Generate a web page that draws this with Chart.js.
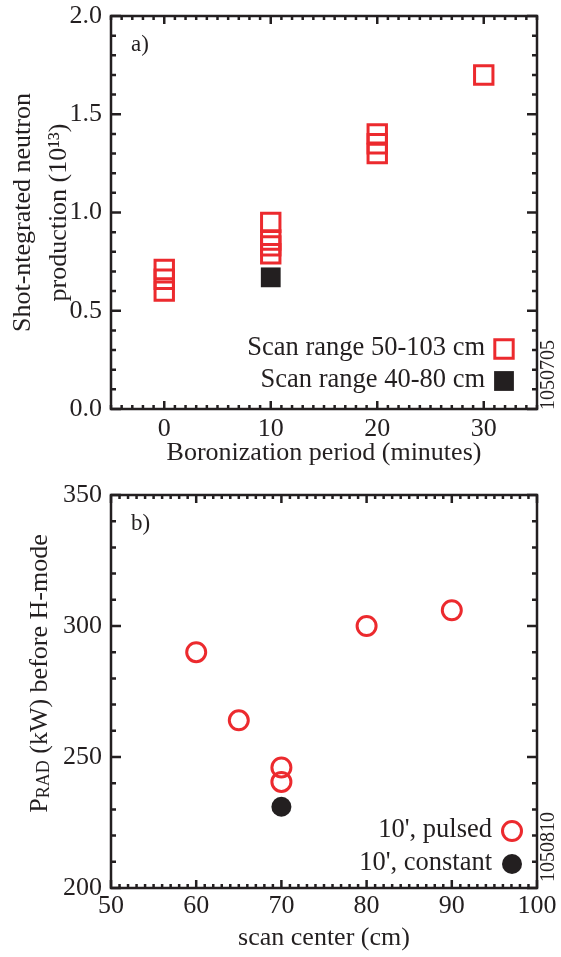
<!DOCTYPE html>
<html>
<head>
<meta charset="utf-8">
<script src="https://cdn.jsdelivr.net/npm/chart.js@4.4.1/dist/chart.umd.min.js"></script>
<style>
  html, body { margin: 0; padding: 0; background: #fff; }
  canvas { display: block; }
</style>
</head>
<body>
<canvas id="neutron-chart" width="561" height="480"></canvas>
<canvas id="prad-chart" width="561" height="477"></canvas>
<script>
// Panel a) data
const boronTimePulsed = [0, 0, 0, 10, 10, 10, 10, 20, 20, 20, 30];
const neutronPulsed = [0.71, 0.66, 0.60, 0.95, 0.86, 0.83, 0.79, 1.40, 1.35, 1.30, 1.70];
const boronTimeNarrow = [10];
const neutronNarrow = [0.67];
const boronTicks = [0, 10, 20, 30];
const neutronTicks = [0.0, 0.5, 1.0, 1.5, 2.0];

// Panel b) data
const scanCenterPulsed = [60, 65, 70, 70, 80, 90];
const pradPulsed = [290, 264, 246, 240.5, 300, 306];
const scanCenterConstant = [70];
const pradConstant = [231];
const scanTicks = [50, 60, 70, 80, 90, 100];
const pradTicks = [200, 250, 300, 350];

const ink = '#231f20';
const red = '#ec2a2e';
const serif = "'Liberation Serif', 'DejaVu Serif', serif";

function toPoints(xs, ys) {
  return xs.map((v, i) => ({ x: v, y: ys[i] }));
}

// frame around plot area + inward ticks on all four sides
const boxTicks = {
  id: 'boxTicks',
  afterDraw(chart, args, opts) {
    const { ctx, chartArea: a, scales: { x, y } } = chart;
    ctx.save();
    ctx.strokeStyle = ink;
    ctx.lineWidth = 2.5;
    ctx.beginPath();
    const nx = Math.round((x.max - x.min) / opts.xMinor);
    for (let i = 0; i <= nx; i++) {
      const v = x.min + i * opts.xMinor;
      const major = Math.abs(v / opts.xMajor - Math.round(v / opts.xMajor)) < 1e-6;
      const len = major ? 8 : 4;
      const px = x.getPixelForValue(v);
      ctx.moveTo(px, a.bottom); ctx.lineTo(px, a.bottom - len);
      ctx.moveTo(px, a.top); ctx.lineTo(px, a.top + len);
    }
    const ny = Math.round((y.max - y.min) / opts.yMinor);
    for (let i = 0; i <= ny; i++) {
      const v = y.min + i * opts.yMinor;
      const major = Math.abs(v / opts.yMajor - Math.round(v / opts.yMajor)) < 1e-6;
      const len = major ? 10 : 5;
      const py = y.getPixelForValue(v);
      ctx.moveTo(a.left, py); ctx.lineTo(a.left + len, py);
      ctx.moveTo(a.right, py); ctx.lineTo(a.right - len, py);
    }
    ctx.stroke();
    ctx.strokeRect(a.left, a.top, a.right - a.left, a.bottom - a.top);
    ctx.restore();
  }
};

function drawMarker(ctx, ds, cx, cy) {
  ctx.save();
  ctx.fillStyle = ds.backgroundColor;
  ctx.strokeStyle = ds.borderColor;
  ctx.lineWidth = ds.borderWidth;
  ctx.beginPath();
  if (ds.pointStyle === 'rect') {
    const s = Math.SQRT1_2 * ds.pointRadius;
    ctx.rect(cx - s, cy - s, 2 * s, 2 * s);
  } else {
    ctx.arc(cx, cy, ds.pointRadius, 0, Math.PI * 2);
  }
  ctx.fill();
  if (ds.borderWidth > 0) ctx.stroke();
  ctx.restore();
}

// legend in the lower right corner, panel tag, and shot id on the right
const panelExtras = {
  id: 'panelExtras',
  afterDraw(chart, args, opts) {
    const { ctx, chartArea: a } = chart;
    ctx.save();
    ctx.fillStyle = ink;
    ctx.font = `26.5px ${serif}`;
    ctx.textAlign = 'right';
    ctx.textBaseline = 'middle';
    chart.data.datasets.forEach((ds, i) => {
      ctx.fillStyle = ink;
      ctx.fillText(ds.label, a.right - opts.textRight, a.bottom - opts.rows[i]);
      drawMarker(ctx, ds, a.right - opts.symbolRight, a.bottom - opts.rows[i] + 1);
    });

    ctx.fillStyle = ink;
    ctx.font = `23px ${serif}`;
    ctx.textAlign = 'left';
    ctx.fillText(opts.tag, a.left + 20, a.top + 29);

    ctx.translate(a.right + 12, a.bottom + opts.idEnd);
    ctx.rotate(-Math.PI / 2);
    ctx.font = `20px ${serif}`;
    ctx.textAlign = 'left';
    ctx.textBaseline = 'middle';
    ctx.fillText(opts.id, 0, 0);
    ctx.restore();
  }
};

// y title of panel b) with the RAD subscript
const pradTitle = {
  id: 'pradTitle',
  afterDraw(chart) {
    const { ctx, chartArea: a } = chart;
    const parts = [
      { t: 'P', f: `26px ${serif}`, dy: 0 },
      { t: 'RAD', f: `18px ${serif}`, dy: 2 },
      { t: ' (kW) before H-mode', f: `26px ${serif}`, dy: 0 }
    ];
    ctx.save();
    let total = 0;
    parts.forEach(p => { ctx.font = p.f; p.w = ctx.measureText(p.t).width; total += p.w; });
    ctx.translate(47, (a.top + a.bottom) / 2 - 18);
    ctx.rotate(-Math.PI / 2);
    ctx.fillStyle = ink;
    ctx.textBaseline = 'alphabetic';
    ctx.textAlign = 'left';
    let px = -total / 2;
    parts.forEach(p => {
      ctx.font = p.f;
      ctx.fillText(p.t, px, p.dy);
      px += p.w;
    });
    ctx.restore();
  }
};

function axisFont() {
  return { family: serif, size: 26 };
}

// fixed axis sizes so the plot box lands where the reference has it
function fixX(h) {
  return s => { s.height = h; s.paddingLeft = 0; s.paddingRight = 0; };
}
function fixY(w) {
  return s => { s.width = w; s.paddingTop = 0; s.paddingBottom = 0; };
}

// Panel a)
const neutronCtx = document.getElementById('neutron-chart').getContext('2d');
const neutronChart = new Chart(neutronCtx, {
  type: 'scatter',
  data: {
    datasets: [
      {
        label: 'Scan range 50-103 cm',
        data: toPoints(boronTimePulsed, neutronPulsed),
        pointStyle: 'rect',
        pointRadius: 13,
        borderWidth: 3,
        borderColor: red,
        backgroundColor: 'rgba(0,0,0,0)'
      },
      {
        label: 'Scan range 40-80 cm',
        data: toPoints(boronTimeNarrow, neutronNarrow),
        pointStyle: 'rect',
        pointRadius: 14,
        borderWidth: 0,
        borderColor: ink,
        backgroundColor: ink
      }
    ]
  },
  options: {
    responsive: false,
    animation: false,
    layout: { padding: { top: 15, right: 24, left: 0, bottom: 0 } },
    scales: {
      x: {
        min: -5,
        max: 35,
        afterBuildTicks: s => { s.ticks = boronTicks.map(v => ({ value: v })); },
        afterFit: fixX(71),
        grid: { display: false, drawTicks: false },
        border: { display: false },
        ticks: { color: ink, font: axisFont(), padding: 5, maxRotation: 0 },
        title: {
          display: true,
          text: 'Boronization period (minutes)',
          color: ink,
          font: axisFont(),
          padding: { top: 0, bottom: 11 }
        }
      },
      y: {
        min: 0,
        max: 2,
        afterBuildTicks: s => { s.ticks = neutronTicks.map(v => ({ value: v })); },
        afterFit: fixY(111),
        grid: { display: false, drawTicks: false },
        border: { display: false },
        ticks: { color: ink, font: axisFont(), padding: 9, callback: v => v.toFixed(1) },
        title: {
          display: true,
          text: ['Shot-ntegrated neutron', 'production (10¹³)'],
          color: ink,
          font: { family: serif, size: 26, lineHeight: 1.4 },
          padding: { top: 5, bottom: 0 }
        }
      }
    },
    plugins: {
      legend: { display: false },
      tooltip: { enabled: false },
      boxTicks: { xMinor: 1, xMajor: 10, yMinor: 0.1, yMajor: 0.5 },
      panelExtras: { rows: [61, 29], textRight: 52, symbolRight: 33, tag: 'a)', id: '1050705', idEnd: 1 }
    }
  },
  plugins: [boxTicks, panelExtras]
});

// Panel b)
const pradCtx = document.getElementById('prad-chart').getContext('2d');
const pradChart = new Chart(pradCtx, {
  type: 'scatter',
  data: {
    datasets: [
      {
        label: "10', pulsed",
        data: toPoints(scanCenterPulsed, pradPulsed),
        pointStyle: 'circle',
        pointRadius: 9.5,
        borderWidth: 3,
        borderColor: red,
        backgroundColor: 'rgba(0,0,0,0)'
      },
      {
        label: "10', constant",
        data: toPoints(scanCenterConstant, pradConstant),
        pointStyle: 'circle',
        pointRadius: 10,
        borderWidth: 0,
        borderColor: ink,
        backgroundColor: ink
      }
    ]
  },
  options: {
    responsive: false,
    animation: false,
    layout: { padding: { top: 15, right: 24, left: 0, bottom: 0 } },
    scales: {
      x: {
        min: 50,
        max: 100,
        afterBuildTicks: s => { s.ticks = scanTicks.map(v => ({ value: v })); },
        afterFit: fixX(69),
        grid: { display: false, drawTicks: false },
        border: { display: false },
        ticks: { color: ink, font: axisFont(), padding: 3, maxRotation: 0 },
        title: {
          display: true,
          text: 'scan center (cm)',
          color: ink,
          font: axisFont(),
          padding: { top: 0, bottom: 3 }
        }
      },
      y: {
        min: 200,
        max: 350,
        afterBuildTicks: s => { s.ticks = pradTicks.map(v => ({ value: v })); },
        afterFit: fixY(111),
        grid: { display: false, drawTicks: false },
        border: { display: false },
        ticks: { color: ink, font: axisFont(), padding: 9 },
        title: { display: false }
      }
    },
    plugins: {
      legend: { display: false },
      tooltip: { enabled: false },
      boxTicks: { xMinor: 1, xMajor: 10, yMinor: 10, yMajor: 50 },
      panelExtras: { rows: [58, 25], textRight: 45, symbolRight: 25, tag: 'b)', id: '1050810', idEnd: -6 }
    }
  },
  plugins: [boxTicks, panelExtras, pradTitle]
});
</script>
</body>
</html>
